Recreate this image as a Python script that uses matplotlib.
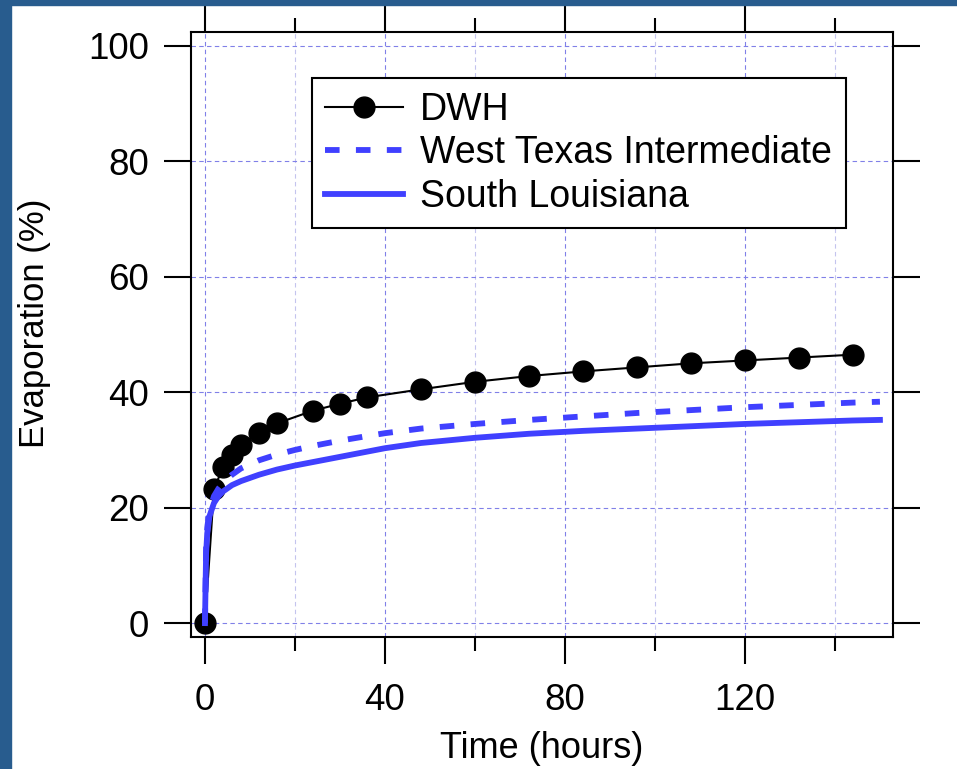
import numpy as np
import matplotlib
matplotlib.use("Agg")
import matplotlib.pyplot as plt
from matplotlib import ticker
from matplotlib.patches import Rectangle

plt.rcParams['font.family'] = ['Liberation Sans', 'DejaVu Sans']

# DWH measured evaporation
dwh_t = [0, 2, 4, 6, 8, 12, 16, 24, 30, 36, 48, 60, 72, 84, 96, 108, 120, 132, 144]
dwh_ev = [0, 23.2, 27.0, 29.1, 30.8, 33.0, 34.6, 36.8, 38.0, 39.1, 40.5, 41.8, 42.8,
          43.6, 44.3, 45.0, 45.5, 46.0, 46.5]

# model curves
model_t = [0, 0.25, 0.5, 1, 2, 3, 4, 6, 8, 12, 16, 20, 24, 30, 36, 40, 48, 60, 72,
           84, 96, 108, 120, 132, 144, 150]
wti_ev = [0, 13.0, 16.5, 19.5, 22.0, 23.3, 24.3, 25.7, 26.8, 28.2, 29.2, 30.0, 30.7,
          31.6, 32.4, 32.9, 33.7, 34.5, 35.2, 35.8, 36.4, 36.9, 37.4, 37.8, 38.2, 38.35]
sl_ev = [0, 12.0, 15.5, 18.5, 20.8, 22.0, 22.8, 23.9, 24.6, 25.7, 26.6, 27.3, 27.9,
         28.8, 29.7, 30.3, 31.2, 32.1, 32.8, 33.3, 33.7, 34.1, 34.5, 34.8, 35.1, 35.2]

blue = '#4040ff'
grid_major = '#8080e8'
grid_minor = '#c4c4ee'

fig = plt.figure(figsize=(9.57, 7.69), dpi=100)
fig.patches.append(Rectangle((0, 0), 11 / 957, 1, transform=fig.transFigure,
                             color='#285c8e', zorder=0))
fig.patches.append(Rectangle((0, 1 - 5 / 769), 1, 5 / 769, transform=fig.transFigure,
                             color='#285c8e', zorder=0))

ax = fig.add_axes([0.1996, 0.1717, 0.7335, 0.7867])

ax.plot(dwh_t, dwh_ev, color='black', lw=1.5, marker='o', ms=15, label='DWH')
ax.plot(model_t, wti_ev, color=blue, lw=4.2, dashes=(2.5, 2.8),
        label='West Texas Intermediate')
ax.plot(model_t, sl_ev, color=blue, lw=4.2, label='South Louisiana')

ax.set_xlim(-3.1, 152.9)
ax.set_ylim(-2.4, 102.4)

ax.xaxis.set_major_locator(ticker.MultipleLocator(40))
ax.xaxis.set_minor_locator(ticker.MultipleLocator(20))
ax.yaxis.set_major_locator(ticker.MultipleLocator(20))

ax.tick_params(axis='both', which='major', direction='out', length=19.5, width=1.5,
               labelsize=26.5)
ax.tick_params(axis='x', which='both', top=True, bottom=True, pad=13.5)
ax.tick_params(axis='x', which='minor', direction='out', length=10, width=1.5)
ax.tick_params(axis='y', right=True, pad=11)

for s in ax.spines.values():
    s.set_linewidth(1.5)

ax.grid(True, which='major', axis='x', color=grid_major, lw=0.8, ls=(0, (4, 3)))
ax.grid(True, which='minor', axis='x', color=grid_minor, lw=0.8, ls=(0, (4, 3)))
ax.grid(True, which='major', axis='y', color=grid_major, lw=0.8, ls=(0, (4, 3)))
ax.set_axisbelow(True)

ax.set_xlabel('Time (hours)', fontsize=26)
ax.set_ylabel('Evaporation (%)', fontsize=25)
ax.xaxis.set_label_coords(0.5, -0.155)
ax.yaxis.set_label_coords(-0.199, 0.519)

leg = ax.legend(loc='upper left', bbox_to_anchor=(0.172, 0.9235), fontsize=27,
                frameon=True, fancybox=False, edgecolor='black', borderaxespad=0,
                borderpad=0.36, handlelength=2.08, handletextpad=0.45,
                labelspacing=0.2)
leg.get_frame().set_linewidth(1.5)
leg.get_frame().set_alpha(1)

fig.savefig('out.png', dpi=100)
